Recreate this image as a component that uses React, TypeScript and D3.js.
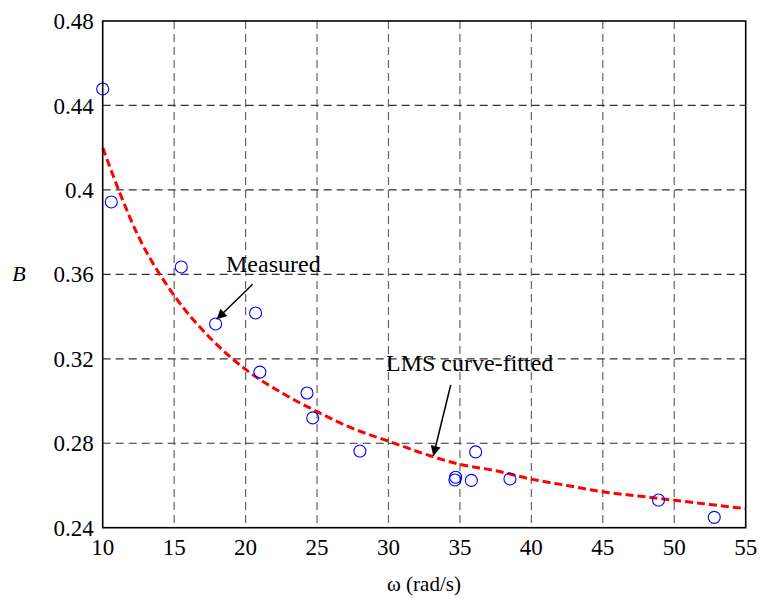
import React from "react";
import * as d3 from "d3";

const xTicks = [10, 15, 20, 25, 30, 35, 40, 45, 50, 55];
const yTicks = [0.24, 0.28, 0.32, 0.36, 0.4, 0.44, 0.48];
const yTickLabels = ["0.24", "0.28", "0.32", "0.36", "0.4", "0.44", "0.48"];

const measuredOmega = [10.0, 10.6, 15.5, 17.9, 20.7, 21.0, 24.3, 24.7, 28.0, 34.7, 34.65, 36.1, 35.8, 38.5, 48.9, 52.8];
const measuredB = [0.4478, 0.3943, 0.3635, 0.3365, 0.3417, 0.3137, 0.3038, 0.292, 0.2763, 0.2639, 0.2626, 0.2759, 0.2624, 0.2631, 0.2531, 0.2449];

const fitOmega = [10, 12.5, 15, 17.5, 20, 22.5, 25, 27.5, 30, 32.5, 35, 37.5, 40, 42.5, 45, 47.5, 50, 52.5, 55];
const fitB = [0.42, 0.378, 0.35, 0.33, 0.315, 0.304, 0.295, 0.287, 0.281, 0.275, 0.27, 0.267, 0.263, 0.26, 0.257, 0.255, 0.253, 0.251, 0.249];

const W = 763;
const H = 599;
const left = 102.7;
const right = 745.7;
const top = 21;
const bottom = 527.7;

export default function App() {
  const x = d3.scaleLinear().domain([10, 55]).range([left, right]);
  const y = d3.scaleLinear().domain([0.24, 0.48]).range([bottom, top]);
  const fitData = fitOmega.map((w, i) => [w, fitB[i]] as [number, number]);
  const line = d3
    .line<[number, number]>()
    .x((d) => x(d[0]))
    .y((d) => y(d[1]))
    .curve(d3.curveMonotoneX);
  const font = "'Liberation Serif', 'Times New Roman', serif";

  return (
    <svg
      width={W}
      height={H}
      style={{ position: "absolute", left: 0, top: 0, background: "#fff" }}
      fontFamily={font}
    >
      <defs>
        <marker id="ah" viewBox="0 0 10 10" refX="10" refY="5" markerWidth="13" markerHeight="10" markerUnits="userSpaceOnUse" orient="auto">
          <path d="M0,0 L10,5 L0,10 z" fill="#000" />
        </marker>
      </defs>
      <rect x={0} y={0} width={W} height={H} fill="#fff" />
      {/* grid */}
      {xTicks.slice(1, -1).map((t) => (
        <line key={"gx" + t} x1={x(t)} x2={x(t)} y1={top} y2={bottom} stroke="#666" strokeWidth={1.2} strokeDasharray="8,5" />
      ))}
      {yTicks.slice(1, -1).map((t) => (
        <line key={"gy" + t} x1={left} x2={right} y1={y(t)} y2={y(t)} stroke="#333" strokeWidth={1.2} strokeDasharray="8,5" />
      ))}
      {/* fitted curve */}
      <path d={line(fitData) || ""} fill="none" stroke="#ff0000" strokeWidth={3} strokeDasharray="8,4" />
      {/* measured points */}
      {measuredOmega.map((w, i) => (
        <circle key={"p" + i} cx={x(w)} cy={y(measuredB[i])} r={6} fill="none" stroke="#0000ff" strokeWidth={1.1} />
      ))}
      {/* axes box */}
      <rect x={left} y={top} width={right - left} height={bottom - top} fill="none" stroke="#000" strokeWidth={1.6} />
      {/* tick labels */}
      {xTicks.map((t) => (
        <text key={"tx" + t} x={x(t)} y={555} textAnchor="middle" fontSize={23} fill="#000">
          {t}
        </text>
      ))}
      {yTicks.map((t, i) => (
        <text key={"ty" + t} x={left - 9} y={y(t)} dy="0.35em" textAnchor="end" fontSize={23} fill="#000">
          {yTickLabels[i]}
        </text>
      ))}
      {/* axis titles */}
      <text x={424} y={591} textAnchor="middle" fontSize={21} fill="#000">
        ω (rad/s)
      </text>
      <text x={19} y={281} textAnchor="middle" fontSize={22} fontStyle="italic" fill="#000">
        B
      </text>
      {/* annotations */}
      <text x={226} y={272} fontSize={24} fill="#000">
        Measured
      </text>
      <line x1={252.7} y1={284.3} x2={216.7} y2={319.3} stroke="#000" strokeWidth={1.5} markerEnd="url(#ah)" />
      <text x={386} y={371} fontSize={24} fill="#000">
        LMS curve-fitted
      </text>
      <line x1={450.7} y1={385} x2={433.3} y2={456} stroke="#000" strokeWidth={1.5} markerEnd="url(#ah)" />
    </svg>
  );
}
